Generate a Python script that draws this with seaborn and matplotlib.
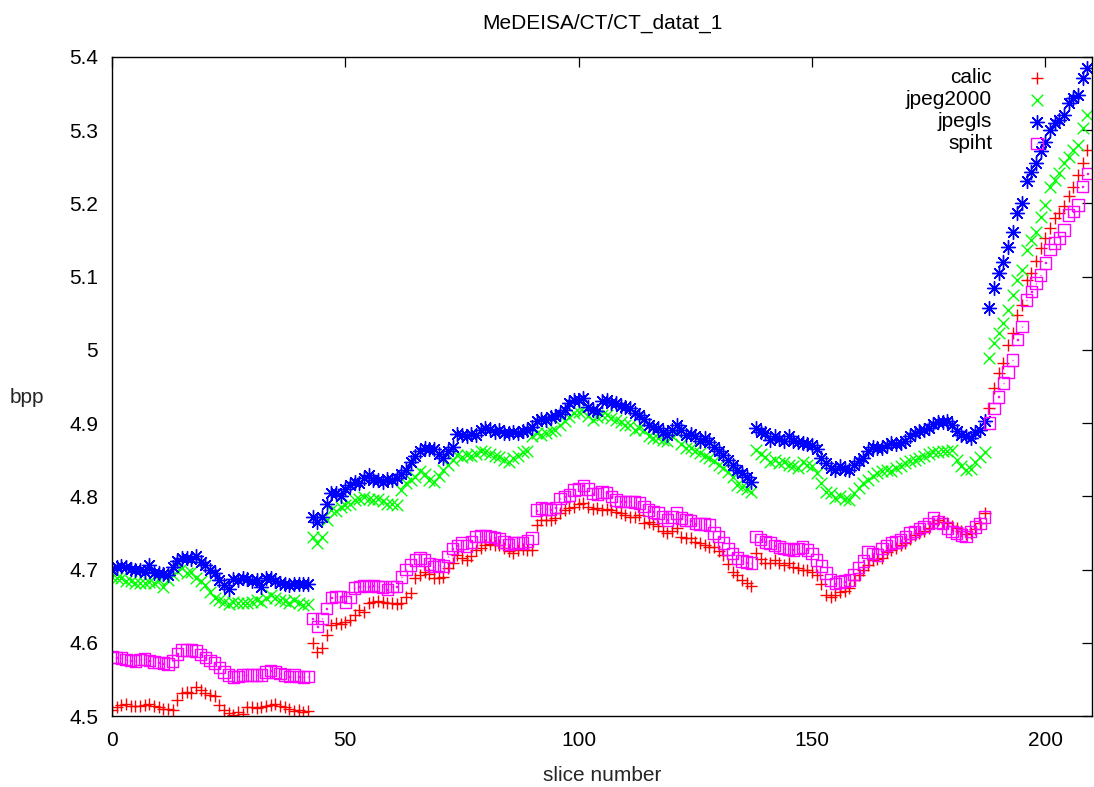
import numpy as np
import matplotlib
matplotlib.use("Agg")
import matplotlib.pyplot as plt
from matplotlib.path import Path
from matplotlib.ticker import FuncFormatter
import seaborn as sns

title = "MeDEISA/CT/CT_datat_1"
x_label = "slice number"
y_label = "bpp"
series_names = ["calic", "jpeg2000", "jpegls", "spiht"]

calic = [
    4.508, 4.512, 4.515, 4.517, 4.514, 4.513, 4.513, 4.515, 4.517, 4.513,
    4.512, 4.510, 4.510, 4.508, 4.522, 4.531, 4.533, 4.531, 4.540, 4.535,
    4.532, 4.528, 4.527, 4.515, 4.508, 4.504, 4.502, 4.505, 4.503, 4.512,
    4.512, 4.511, 4.512, 4.513, 4.515, 4.517, 4.513, 4.512, 4.510, 4.507,
    4.508, 4.505, 4.507, 4.600, 4.588, 4.593, 4.611, 4.624, 4.627, 4.626,
    4.628, 4.631, 4.638, 4.645, 4.642, 4.654, 4.656, 4.657, 4.656, 4.654,
    4.655, 4.653, 4.655, 4.662, 4.668, 4.689, 4.693, 4.697, 4.694, 4.689,
    4.688, 4.690, 4.702, 4.709, 4.720, 4.716, 4.713, 4.718, 4.727, 4.730,
    4.734, 4.735, 4.734, 4.733, 4.729, 4.725, 4.722, 4.727, 4.728, 4.727,
    4.727, 4.761, 4.768, 4.767, 4.768, 4.770, 4.777, 4.782, 4.784, 4.786,
    4.790, 4.791, 4.785, 4.783, 4.784, 4.782, 4.783, 4.782, 4.779, 4.777,
    4.775, 4.772, 4.772, 4.775, 4.763, 4.765, 4.762, 4.759, 4.752, 4.750,
    4.753, 4.757, 4.745, 4.743, 4.743, 4.738, 4.736, 4.734, 4.731, 4.731,
    4.725, 4.720, 4.708, 4.697, 4.692, 4.686, 4.681, 4.677, 4.722, 4.715,
    4.709, 4.709, 4.713, 4.709, 4.706, 4.709, 4.704, 4.702, 4.699, 4.699,
    4.697, 4.693, 4.680, 4.665, 4.663, 4.665, 4.670, 4.671, 4.675, 4.686,
    4.692, 4.699, 4.706, 4.713, 4.714, 4.716, 4.724, 4.727, 4.730, 4.734,
    4.736, 4.742, 4.747, 4.750, 4.753, 4.757, 4.763, 4.768, 4.765, 4.763,
    4.760, 4.757, 4.752, 4.748, 4.750, 4.755, 4.763, 4.777, 4.920, 4.948,
    4.969, 4.982, 5.007, 5.023, 5.048, 5.061, 5.096, 5.105, 5.121, 5.139,
    5.153, 5.167, 5.180, 5.187, 5.196, 5.210, 5.223, 5.239, 5.255, 5.273,
]

jpeg2000 = [
    4.690, 4.688, 4.689, 4.685, 4.685, 4.682, 4.681, 4.682, 4.683, 4.681,
    4.686, 4.676, 4.686, 4.693, 4.698, 4.702, 4.695, 4.697, 4.688, 4.684,
    4.679, 4.670, 4.661, 4.658, 4.656, 4.653, 4.656, 4.655, 4.655, 4.655,
    4.656, 4.658, 4.656, 4.661, 4.665, 4.661, 4.659, 4.657, 4.655, 4.658,
    4.655, 4.652, 4.653, 4.745, 4.736, 4.745, 4.768, 4.781, 4.780, 4.786,
    4.788, 4.790, 4.795, 4.796, 4.799, 4.797, 4.795, 4.796, 4.793, 4.790,
    4.790, 4.788, 4.809, 4.818, 4.822, 4.827, 4.834, 4.830, 4.822, 4.820,
    4.828, 4.836, 4.843, 4.850, 4.857, 4.854, 4.857, 4.855, 4.858, 4.862,
    4.860, 4.858, 4.855, 4.854, 4.850, 4.847, 4.852, 4.855, 4.860, 4.862,
    4.882, 4.886, 4.884, 4.886, 4.889, 4.891, 4.897, 4.903, 4.909, 4.914,
    4.915, 4.916, 4.910, 4.904, 4.908, 4.911, 4.911, 4.907, 4.904, 4.902,
    4.898, 4.897, 4.891, 4.894, 4.890, 4.882, 4.880, 4.880, 4.877, 4.875,
    4.882, 4.886, 4.872, 4.866, 4.866, 4.862, 4.859, 4.855, 4.852, 4.848,
    4.843, 4.839, 4.833, 4.827, 4.815, 4.813, 4.810, 4.806, 4.863, 4.858,
    4.854, 4.847, 4.850, 4.846, 4.847, 4.843, 4.841, 4.839, 4.847, 4.843,
    4.841, 4.832, 4.818, 4.806, 4.804, 4.798, 4.800, 4.797, 4.795, 4.804,
    4.811, 4.818, 4.822, 4.828, 4.832, 4.834, 4.836, 4.834, 4.839, 4.841,
    4.845, 4.848, 4.850, 4.852, 4.855, 4.858, 4.861, 4.861, 4.862, 4.862,
    4.863, 4.850, 4.841, 4.836, 4.838, 4.847, 4.854, 4.861, 4.989, 5.010,
    5.023, 5.037, 5.055, 5.075, 5.096, 5.109, 5.137, 5.150, 5.161, 5.182,
    5.198, 5.223, 5.232, 5.241, 5.255, 5.264, 5.273, 5.280, 5.303, 5.321,
]

jpegls = [
    4.699, 4.703, 4.705, 4.703, 4.701, 4.699, 4.700, 4.697, 4.706, 4.695,
    4.695, 4.694, 4.693, 4.704, 4.712, 4.716, 4.716, 4.714, 4.718, 4.711,
    4.706, 4.700, 4.695, 4.686, 4.679, 4.673, 4.687, 4.686, 4.688, 4.687,
    4.684, 4.686, 4.676, 4.688, 4.689, 4.684, 4.682, 4.680, 4.679, 4.680,
    4.680, 4.680, 4.680, 4.772, 4.765, 4.772, 4.790, 4.805, 4.804, 4.800,
    4.810, 4.815, 4.820, 4.818, 4.825, 4.829, 4.822, 4.822, 4.820, 4.823,
    4.822, 4.825, 4.830, 4.836, 4.847, 4.855, 4.862, 4.866, 4.864, 4.864,
    4.858, 4.852, 4.862, 4.868, 4.885, 4.884, 4.883, 4.885, 4.884, 4.890,
    4.893, 4.892, 4.888, 4.890, 4.887, 4.886, 4.888, 4.887, 4.889, 4.890,
    4.895, 4.903, 4.905, 4.904, 4.908, 4.910, 4.912, 4.918, 4.928, 4.931,
    4.932, 4.934, 4.922, 4.918, 4.916, 4.930, 4.932, 4.928, 4.927, 4.924,
    4.922, 4.920, 4.914, 4.911, 4.905, 4.898, 4.895, 4.893, 4.888, 4.884,
    4.890, 4.897, 4.890, 4.884, 4.885, 4.883, 4.875, 4.880, 4.874, 4.868,
    4.862, 4.857, 4.850, 4.843, 4.836, 4.832, 4.826, 4.820, 4.893, 4.888,
    4.886, 4.877, 4.882, 4.878, 4.875, 4.882, 4.875, 4.874, 4.873, 4.872,
    4.870, 4.864, 4.853, 4.845, 4.839, 4.836, 4.841, 4.838, 4.836, 4.843,
    4.848, 4.852, 4.862, 4.868, 4.866, 4.866, 4.870, 4.873, 4.872, 4.873,
    4.875, 4.882, 4.886, 4.889, 4.891, 4.893, 4.899, 4.902, 4.902, 4.903,
    4.897, 4.889, 4.884, 4.882, 4.880, 4.888, 4.891, 4.903, 5.057, 5.085,
    5.105, 5.120, 5.141, 5.161, 5.187, 5.200, 5.230, 5.243, 5.255, 5.271,
    5.284, 5.300, 5.310, 5.314, 5.321, 5.337, 5.344, 5.348, 5.371, 5.385,
]

spiht = [
    4.581, 4.580, 4.579, 4.577, 4.576, 4.575, 4.577, 4.578, 4.576, 4.574,
    4.573, 4.572, 4.571, 4.575, 4.585, 4.590, 4.590, 4.590, 4.589, 4.584,
    4.580, 4.576, 4.572, 4.566, 4.560, 4.556, 4.553, 4.554, 4.556, 4.556,
    4.556, 4.556, 4.556, 4.560, 4.562, 4.560, 4.558, 4.556, 4.554, 4.556,
    4.554, 4.553, 4.554, 4.633, 4.622, 4.633, 4.647, 4.662, 4.663, 4.663,
    4.656, 4.662, 4.675, 4.677, 4.678, 4.677, 4.678, 4.677, 4.676, 4.673,
    4.677, 4.677, 4.690, 4.700, 4.706, 4.713, 4.716, 4.713, 4.708, 4.704,
    4.706, 4.705, 4.718, 4.729, 4.733, 4.736, 4.732, 4.738, 4.745, 4.746,
    4.746, 4.745, 4.744, 4.742, 4.738, 4.734, 4.736, 4.737, 4.736, 4.739,
    4.743, 4.781, 4.784, 4.783, 4.782, 4.785, 4.797, 4.800, 4.802, 4.809,
    4.810, 4.815, 4.810, 4.804, 4.803, 4.806, 4.805, 4.800, 4.795, 4.793,
    4.793, 4.793, 4.792, 4.791, 4.786, 4.781, 4.779, 4.777, 4.772, 4.768,
    4.772, 4.777, 4.770, 4.768, 4.767, 4.763, 4.762, 4.762, 4.761, 4.750,
    4.745, 4.736, 4.728, 4.722, 4.716, 4.712, 4.710, 4.709, 4.745, 4.741,
    4.738, 4.736, 4.733, 4.731, 4.729, 4.728, 4.727, 4.729, 4.731, 4.727,
    4.722, 4.713, 4.705, 4.695, 4.686, 4.681, 4.683, 4.684, 4.686, 4.693,
    4.703, 4.712, 4.724, 4.722, 4.720, 4.729, 4.733, 4.736, 4.738, 4.740,
    4.745, 4.750, 4.752, 4.756, 4.759, 4.763, 4.770, 4.765, 4.763, 4.757,
    4.752, 4.750, 4.747, 4.745, 4.752, 4.758, 4.763, 4.772, 4.900, 4.920,
    4.936, 4.955, 4.970, 4.986, 5.014, 5.032, 5.068, 5.080, 5.091, 5.102,
    5.119, 5.137, 5.146, 5.153, 5.164, 5.184, 5.189, 5.198, 5.223, 5.241,
]

x_ticks = [0, 50, 100, 150, 200]
y_ticks = [4.5, 4.6, 4.7, 4.8, 4.9, 5.0, 5.1, 5.2, 5.3, 5.4]

sns.set_theme(style="white")
plt.rcParams["font.family"] = ["Liberation Sans", "DejaVu Sans"]
plt.rcParams["axes.edgecolor"] = "black"
plt.rcParams["text.color"] = "black"

FS = 15

fig = plt.figure(figsize=(10.94, 7.87), dpi=100)
ax = fig.add_axes([112 / 1094, 1 - 716 / 787, 980 / 1094, 659 / 787])

# gnuplot-like square point with a tiny centre dot
outer = Path([(-1, -1), (1, -1), (1, 1), (-1, 1), (-1, -1)],
             [Path.MOVETO, Path.LINETO, Path.LINETO, Path.LINETO, Path.CLOSEPOLY])
inner = Path([(-0.05, -0.05), (0.05, -0.05), (0.05, 0.05), (-0.05, 0.05), (-0.05, -0.05)],
             [Path.MOVETO, Path.LINETO, Path.LINETO, Path.LINETO, Path.CLOSEPOLY])
square_dot = Path.make_compound_path(outer, inner)

sns.scatterplot(x=np.arange(len(calic)), y=calic, ax=ax, marker="+",
                color="#ff0000", s=85, linewidth=1.0, label=series_names[0])
sns.scatterplot(x=np.arange(len(jpeg2000)), y=jpeg2000, ax=ax, marker="x",
                color="#00ff00", s=70, linewidth=1.0, label=series_names[1])
sns.scatterplot(x=np.arange(len(jpegls)), y=jpegls, ax=ax, marker=(8, 2, 0),
                color="#0000ff", s=100, linewidth=1.0, label=series_names[2])
sns.scatterplot(x=np.arange(len(spiht)), y=spiht, ax=ax, marker=square_dot,
                color="#ff00ff", facecolors="none", edgecolor="#ff00ff",
                s=70, linewidth=1.0, label=series_names[3])

ax.set_xlim(0, 210)
ax.set_ylim(4.5, 5.4)
ax.set_xticks(x_ticks)
ax.set_yticks(y_ticks)
ax.yaxis.set_major_formatter(FuncFormatter(lambda v, p: "%g" % round(v, 2)))
for sp in ax.spines.values():
    sp.set_visible(True)
    sp.set_linewidth(1.0)
    sp.set_color("black")
ax.tick_params(direction="in", length=7, width=0.9, top=True, right=True,
               labelsize=FS, colors="black")
ax.tick_params(axis="x", pad=11)
ax.tick_params(axis="y", pad=10)
ax.grid(False)

ax.set_title(title, fontsize=FS, pad=20)
ax.set_xlabel(x_label, fontsize=FS, labelpad=11)
ax.set_ylabel(y_label, fontsize=FS, rotation=0, ha="center", va="center")
ax.yaxis.set_label_coords(-0.087, 0.484)

leg = ax.legend(loc="upper right", bbox_to_anchor=(0.964, 0.983), frameon=False,
                markerfirst=False, fontsize=FS, handlelength=1.9,
                handletextpad=1.2, labelspacing=0.14, borderpad=0,
                borderaxespad=0, scatterpoints=1)

fig.savefig("out.png", dpi=100)
